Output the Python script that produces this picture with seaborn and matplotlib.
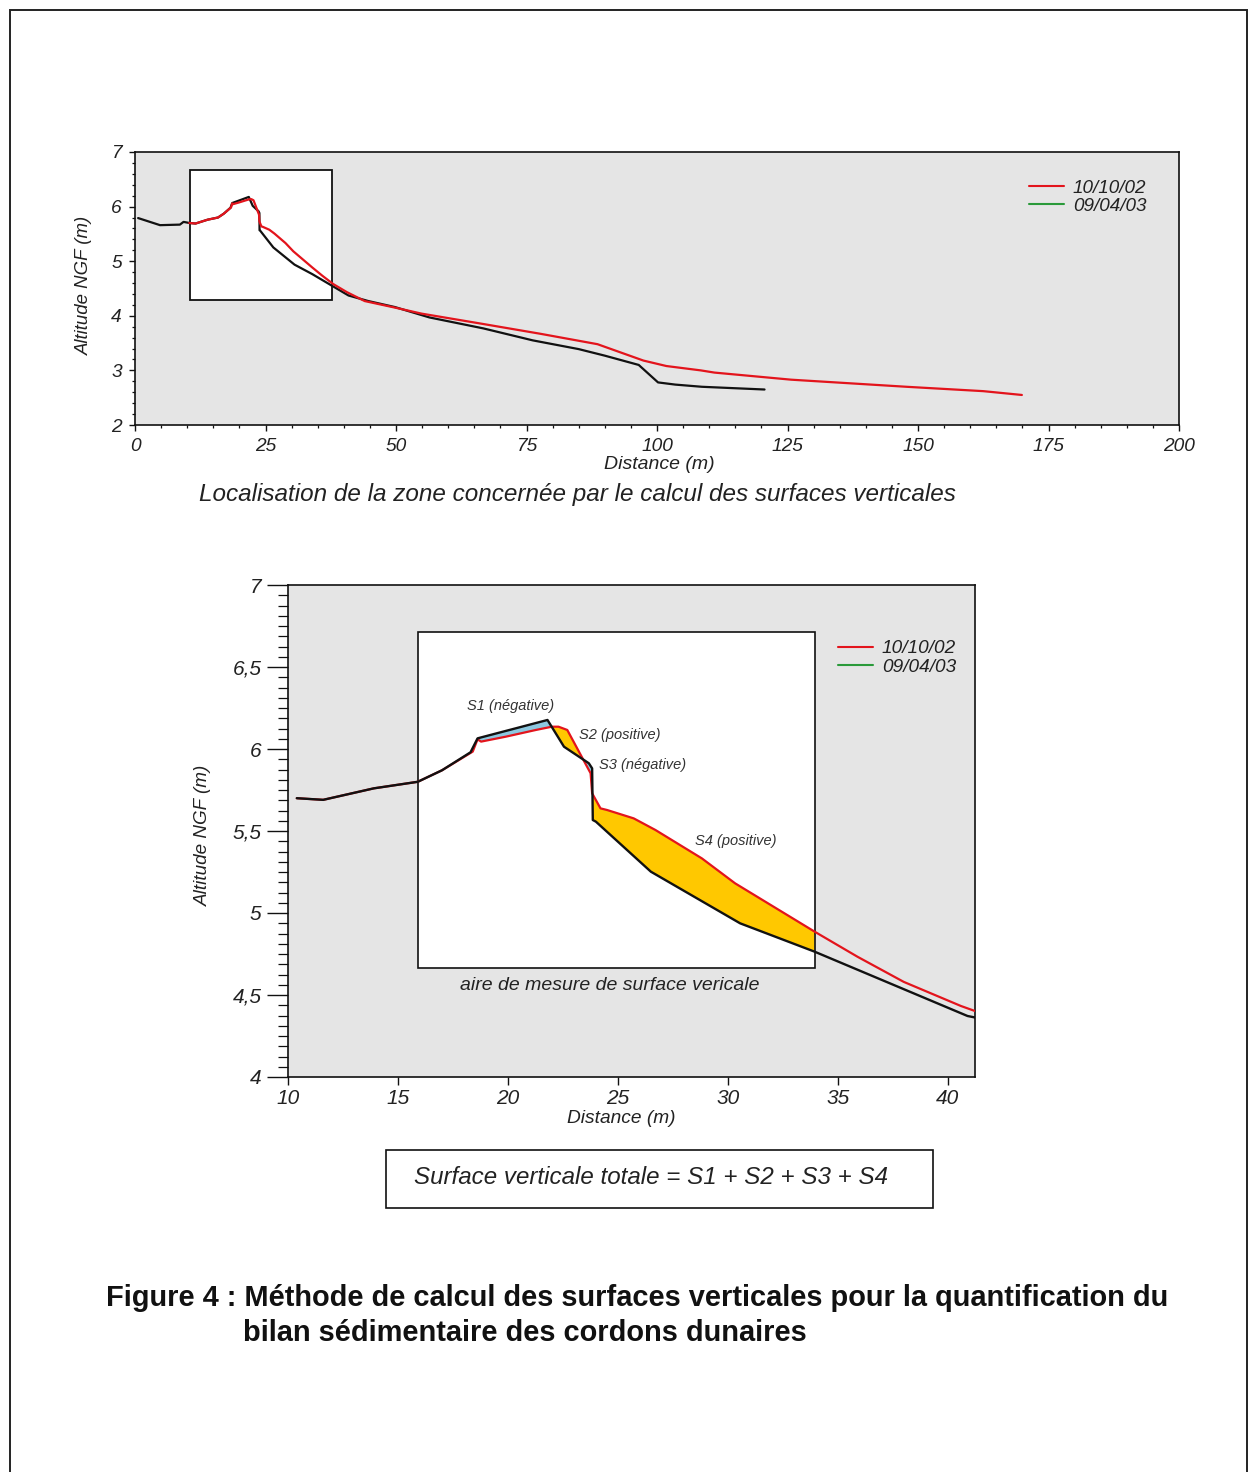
import numpy as np
import pandas as pd
import matplotlib
matplotlib.use("Agg")
import matplotlib.pyplot as plt
from matplotlib.patches import Rectangle
from matplotlib.lines import Line2D
from matplotlib.ticker import MultipleLocator, FuncFormatter, NullLocator
import seaborn as sns

# ---------------------------------------------------------------------------
# Beach/dune cross-shore profiles: distance along transect (m), altitude NGF (m)
# ---------------------------------------------------------------------------
dist_090403 = [0.6, 4.8, 8.6, 9.3, 10.4, 11.6, 13.9, 15.9, 17.0, 18.3, 18.62,
               21.8, 22.55, 23.68, 23.83, 23.86, 24.0, 26.5, 30.56, 33.95,
               40.9, 44.7, 49.8, 56.4, 66.7, 76.2, 85.0, 90.0, 96.5, 100.2,
               103.5, 108.6, 120.6]
alt_090403 = [5.79, 5.66, 5.67, 5.72, 5.70, 5.69, 5.76, 5.80, 5.87, 5.98, 6.065,
              6.177, 6.014, 5.913, 5.882, 5.567, 5.557, 5.252, 4.937, 4.764,
              4.372, 4.27, 4.16, 3.97, 3.77, 3.55, 3.39, 3.27, 3.10, 2.78,
              2.74, 2.70, 2.65]

dist_101002 = [10.4, 11.6, 13.9, 15.9, 17.0, 18.4, 18.62, 18.78, 19.9, 21.27,
               22.0, 22.3, 22.7, 23.23, 23.76, 23.83, 24.21, 24.51, 25.72, 26.71,
               28.82, 30.33, 33.95, 35.9, 38.0, 40.6, 44.0, 49.8, 54.9, 66.7,
               77.7, 88.6, 93.0, 97.4, 101.8, 108.4, 111.0, 125.7, 147.8, 162.5,
               169.9]
alt_101002 = [5.70, 5.69, 5.76, 5.80, 5.87, 5.984, 6.059, 6.045, 6.075, 6.116,
              6.136, 6.136, 6.116, 5.984, 5.852, 5.730, 5.638, 5.628, 5.577, 5.506,
              5.333, 5.181, 4.886, 4.733, 4.58, 4.433, 4.27, 4.15, 4.04, 3.85,
              3.67, 3.48, 3.33, 3.18, 3.08, 3.00, 2.96, 2.83, 2.70, 2.62,
              2.55]

survey_labels = ["10/10/02", "09/04/03"]
surface_labels = ["S1 (négative)", "S2 (positive)", "S3 (négative)", "S4 (positive)"]

overview_xticks = [0, 25, 50, 75, 100, 125, 150, 175, 200]
overview_yticks = [2, 3, 4, 5, 6, 7]
detail_xticks = [10, 15, 20, 25, 30, 35, 40]
detail_yticks = [4, 4.5, 5, 5.5, 6, 6.5, 7]

caption = "Localisation de la zone concernée par le calcul des surfaces verticales"
box_caption = "aire de mesure de surface vericale"
formula = "Surface verticale totale = S1 + S2 + S3 + S4"
title_lines = ["Figure 4 : Méthode de calcul des surfaces verticales pour la quantification du",
               "bilan sédimentaire des cordons dunaires"]

# ---------------------------------------------------------------------------
# Styling
# ---------------------------------------------------------------------------
sns.set_theme(style="white")
plt.rcParams["font.family"] = ["Liberation Sans", "DejaVu Sans"]
plt.rcParams["axes.linewidth"] = 1.1

RED = "#e3141c"
BLACK = "#111111"
GREEN = "#2a9a3a"
PANEL = "#e5e5e5"
GOLD = "#ffc800"
BLUE = "#8cc8e0"
TXT = "#222222"

W, H = 1249, 1472
fig = plt.figure(figsize=(W / 100, H / 100), dpi=100)
fig.patch.set_facecolor("white")

# page frame
fig.patches.append(Rectangle((10 / W, -0.02), 1237 / W, 1 - 10 / H + 0.02,
                             transform=fig.transFigure, fill=False,
                             edgecolor="#222222", lw=1.4, zorder=0))

df03 = pd.DataFrame({"distance": dist_090403, "altitude": alt_090403})
df02 = pd.DataFrame({"distance": dist_101002, "altitude": alt_101002})

legend_handles = [Line2D([], [], color=RED, lw=1.5),
                  Line2D([], [], color=GREEN, lw=1.5)]

# ---------------------------------------------------------------------------
# Overview profile
# ---------------------------------------------------------------------------
ax1 = fig.add_axes([135 / W, 1 - 425 / H, 1044 / W, 273 / H])
ax1.set_facecolor(PANEL)
ax1.set_xlim(0, 200)
ax1.set_ylim(2, 7)

zoom_x0, zoom_x1, zoom_y0, zoom_y1 = 10.5, 37.7, 4.29, 6.67
ax1.add_patch(Rectangle((zoom_x0, zoom_y0), zoom_x1 - zoom_x0, zoom_y1 - zoom_y0,
                        facecolor="white", edgecolor=BLACK, lw=1.3, zorder=1))

sns.lineplot(data=df03, x="distance", y="altitude", ax=ax1, color=BLACK,
             lw=1.6, sort=False, estimator=None, legend=False, zorder=3)
sns.lineplot(data=df02, x="distance", y="altitude", ax=ax1, color=RED,
             lw=1.6, sort=False, estimator=None, legend=False, zorder=4)

ax1.set_xticks(overview_xticks)
ax1.set_yticks(overview_yticks)
ax1.xaxis.set_minor_locator(MultipleLocator(5))
ax1.yaxis.set_minor_locator(MultipleLocator(0.2))
ax1.tick_params(which="major", direction="out", length=4.5, width=1.0,
                labelsize=13.8, colors=BLACK, labelcolor=TXT, pad=5,
                left=True, bottom=True)
ax1.tick_params(which="minor", direction="out", length=2.5, width=0.9,
                left=True, bottom=True, colors=BLACK)
for lab in ax1.get_xticklabels() + ax1.get_yticklabels():
    lab.set_style("italic")
for sp in ax1.spines.values():
    sp.set_color(BLACK)
    sp.set_linewidth(1.2)

ax1.set_xlabel("Distance (m)", fontsize=14, style="italic", color=TXT, va="center")
ax1.set_ylabel("Altitude NGF (m)", fontsize=13.4, style="italic", color=TXT, va="center")
ax1.xaxis.set_label_coords(0.502, -0.1465)
ax1.yaxis.set_label_coords(-0.048, 0.513)

leg1 = ax1.legend(legend_handles, survey_labels, loc="upper left",
                  bbox_to_anchor=(0.856, 0.899), frameon=False,
                  prop={"style": "italic", "size": 13.6}, handlelength=1.85,
                  handletextpad=0.48, borderpad=0, borderaxespad=0,
                  labelspacing=0.05)
for t in leg1.get_texts():
    t.set_color(TXT)

fig.text(577 / W, 1 - 495 / H, caption, ha="center", va="center",
         fontsize=17.5, style="italic", color=TXT)

# ---------------------------------------------------------------------------
# Detail of the dune crest
# ---------------------------------------------------------------------------
ax2 = fig.add_axes([288 / W, 1 - 1077 / H, 687 / W, 492 / H])
ax2.set_facecolor(PANEL)
ax2.set_xlim(10, 41.24)
ax2.set_ylim(4, 7)

box_x0, box_x1, box_y0, box_y1 = 15.9, 33.95, 4.665, 6.713
ax2.add_patch(Rectangle((box_x0, box_y0), box_x1 - box_x0, box_y1 - box_y0,
                        facecolor="white", edgecolor="none", zorder=1))
ax2.add_patch(Rectangle((box_x0, box_y0), box_x1 - box_x0, box_y1 - box_y0,
                        facecolor="none", edgecolor=BLACK, lw=1.2, zorder=2.5))

# signed areas between both surveys inside the measurement window
xs = np.linspace(18.62, box_x1, 4000)
y03 = np.interp(xs, dist_090403, alt_090403)
y02 = np.interp(xs, dist_101002, alt_101002)
ax2.fill_between(xs, y02, y03, where=y02 >= y03, interpolate=True,
                 color=GOLD, lw=0, zorder=2)
ax2.fill_between(xs, y02, y03, where=y02 < y03, interpolate=True,
                 color=BLUE, lw=0, zorder=2)

detail_start = 10.4
d03 = df03[df03["distance"] >= detail_start]
sns.lineplot(data=df02, x="distance", y="altitude", ax=ax2, color=RED,
             lw=1.6, sort=False, estimator=None, legend=False, zorder=3)
sns.lineplot(data=d03, x="distance", y="altitude", ax=ax2, color=BLACK,
             lw=1.7, sort=False, estimator=None, legend=False, zorder=4)

ax2.set_xticks(detail_xticks)
ax2.set_yticks(detail_yticks)
ax2.xaxis.set_minor_locator(NullLocator())
ax2.yaxis.set_minor_locator(MultipleLocator(0.0625))
ax2.yaxis.set_major_formatter(FuncFormatter(lambda v, p: f"{v:g}".replace(".", ",")))
ax2.tick_params(axis="y", which="major", direction="out", length=15, width=1.0,
                labelsize=15, colors=BLACK, labelcolor=TXT, pad=4, left=True)
ax2.tick_params(axis="y", which="minor", direction="out", length=7, width=0.9,
                colors=BLACK, left=True)
ax2.tick_params(axis="x", which="major", direction="out", length=5.5, width=1.0,
                labelsize=15, colors=BLACK, labelcolor=TXT, pad=3, bottom=True)
for lab in ax2.get_xticklabels() + ax2.get_yticklabels():
    lab.set_style("italic")
for sp in ax2.spines.values():
    sp.set_color(BLACK)
    sp.set_linewidth(1.2)

ax2.set_xlabel("Distance (m)", fontsize=13.8, style="italic", color=TXT, va="center")
ax2.set_ylabel("Altitude NGF (m)", fontsize=13.6, style="italic", color=TXT, va="center")
ax2.xaxis.set_label_coords(0.4847, -0.0853)
ax2.yaxis.set_label_coords(-0.1237, 0.492)

leg2 = ax2.legend(legend_handles, survey_labels, loc="upper left",
                  bbox_to_anchor=(0.800, 0.888), frameon=False,
                  prop={"style": "italic", "size": 13.7}, handlelength=1.85,
                  handletextpad=0.48, borderpad=0, borderaxespad=0,
                  labelspacing=0.05)
for t in leg2.get_texts():
    t.set_color(TXT)

ann_kw = dict(fontsize=10.5, style="italic", color="#333333", zorder=6)
ax2.text(20.10, 6.262, surface_labels[0], ha="center", va="center", **ann_kw)
ax2.text(23.23, 6.085, surface_labels[1], ha="left", va="center", **ann_kw)
ax2.text(24.14, 5.902, surface_labels[2], ha="left", va="center", **ann_kw)
ax2.text(28.53, 5.439, surface_labels[3], ha="left", va="center", **ann_kw)

ax2.text(24.64, 4.555, box_caption, ha="center", va="center",
         fontsize=14, style="italic", color=TXT)

# ---------------------------------------------------------------------------
# Formula box and figure title
# ---------------------------------------------------------------------------
fig.patches.append(Rectangle((386 / W, 1 - 1208 / H), 547 / W, 58 / H,
                             transform=fig.transFigure, fill=False,
                             edgecolor=BLACK, lw=1.2))
fig.text(414 / W, 1 - 1177 / H, formula, ha="left", va="center",
         fontsize=17.4, style="italic", color=TXT)

fig.text(106 / W, 1 - 1298 / H, title_lines[0], ha="left", va="center",
         fontsize=20.9, fontweight="bold", color="#111111")
fig.text(243 / W, 1 - 1333 / H, title_lines[1], ha="left", va="center",
         fontsize=20.9, fontweight="bold", color="#111111")

fig.savefig("out.png", dpi=100, facecolor="white")
